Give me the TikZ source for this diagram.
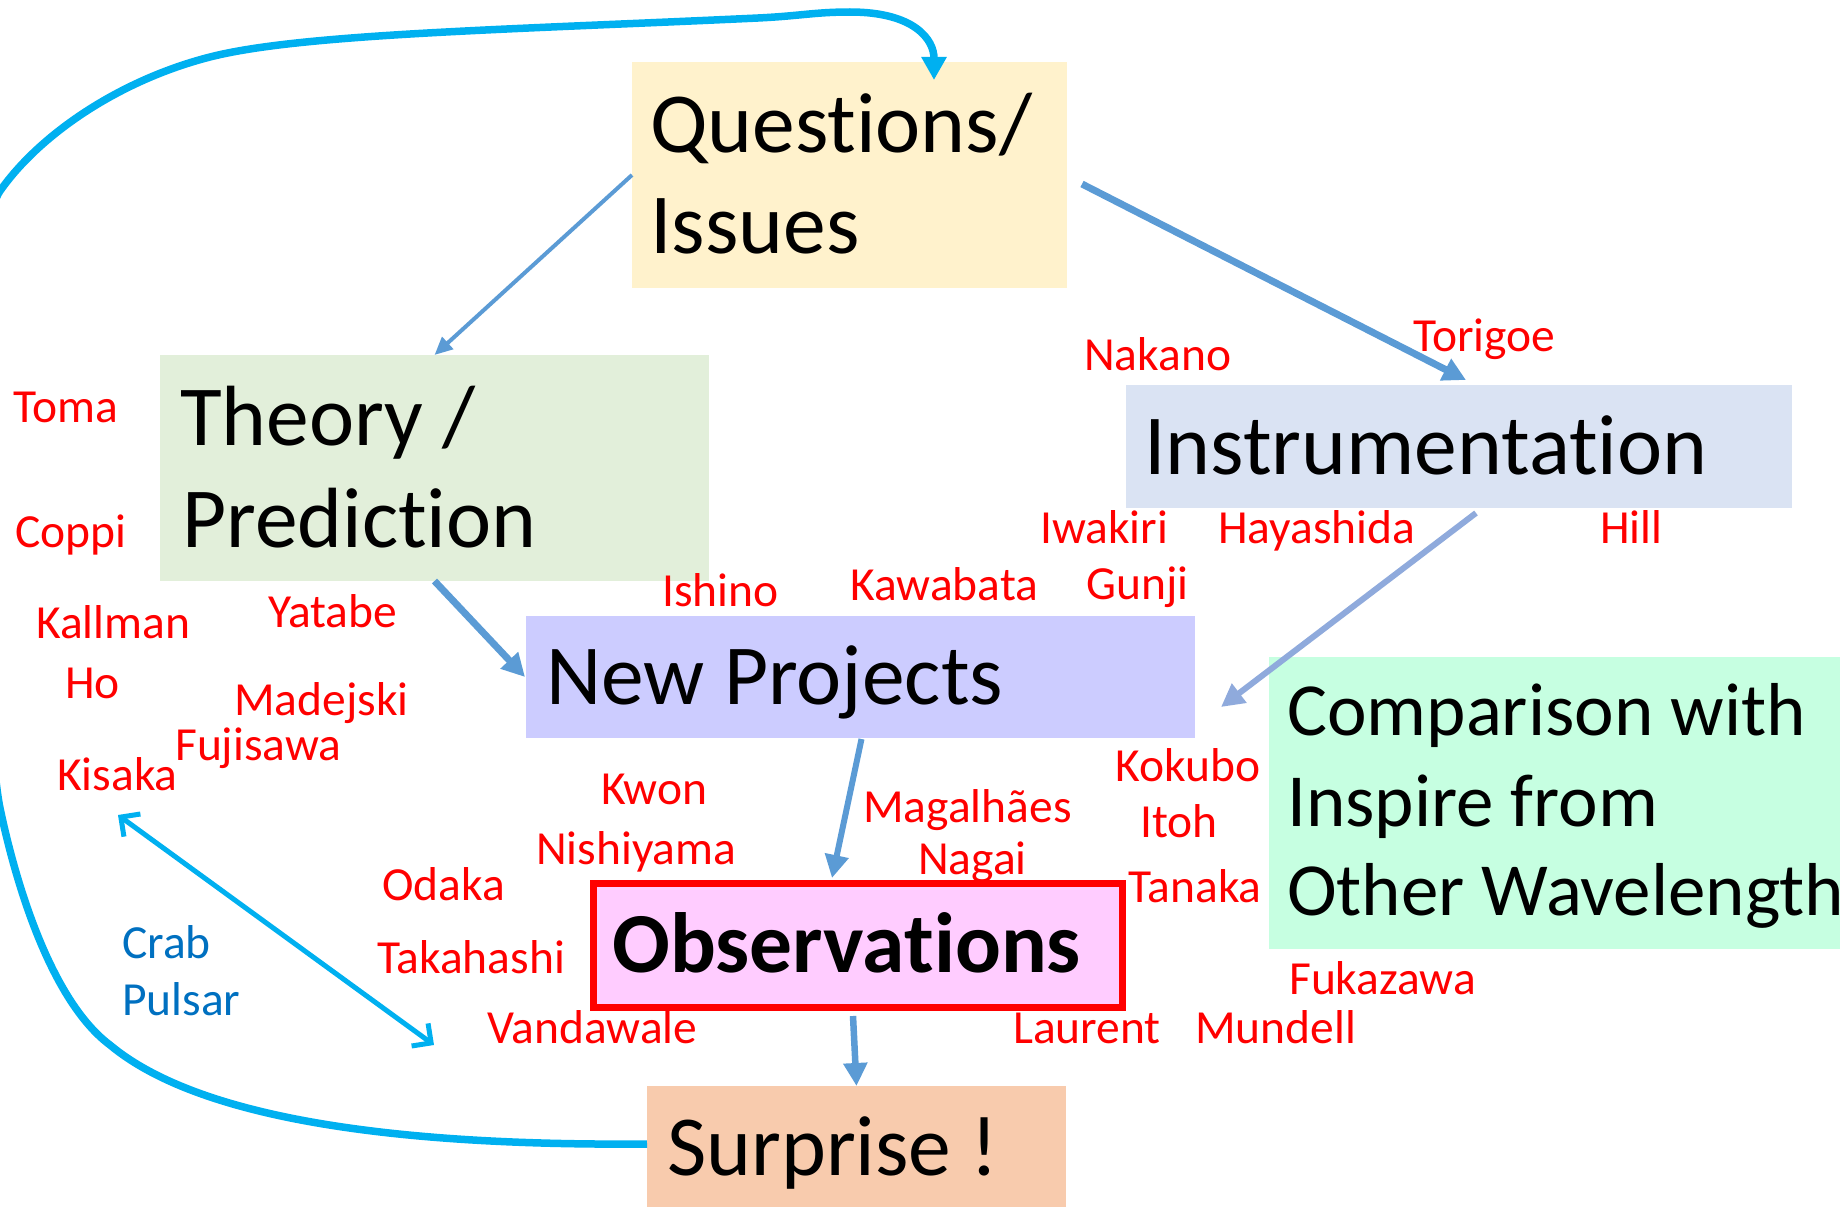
\documentclass[tikz,border=0pt]{standalone}
\usepackage{fontspec}
\setmainfont{Carlito}[RawFeature=-liga]
\usetikzlibrary{arrows.meta}
\definecolor{qfill}{HTML}{FFF2CC}
\definecolor{tfill}{HTML}{E2EFDA}
\definecolor{ifill}{HTML}{DAE3F3}
\definecolor{nfill}{HTML}{CCCCFF}
\definecolor{cfill}{HTML}{C6FFE1}
\definecolor{ofill}{HTML}{FFCCFF}
\definecolor{sfill}{HTML}{F8CBAD}
\definecolor{arrblue}{HTML}{5B9BD5}
\definecolor{arrlight}{HTML}{8FAADC}
\definecolor{loopblue}{HTML}{00B0F0}
\definecolor{crabtext}{HTML}{0070C0}
\definecolor{namered}{HTML}{FF0000}
\begin{document}
\begin{tikzpicture}[x=1pt,y=-1pt,
  box/.style={inner sep=0pt, outer sep=0pt, anchor=north west},
  big/.style={anchor=base west, inner sep=0pt, font=\fontsize{85.5}{101}\selectfont},
  bigbold/.style={big, font=\fontsize{85.5}{101}\selectfont\bfseries},
  cmp/.style={anchor=base west, inner sep=0pt, font=\fontsize{75}{90}\selectfont},
  nm/.style={anchor=base west, inner sep=0pt, text=namered, font=\fontsize{47.5}{57}\selectfont},
  crab/.style={nm, text=crabtext},
  conn/.style={draw=arrblue},
  tipA/.style={-{Triangle[length=23pt,width=23pt]}},
  tipB/.style={-{Triangle[length=18pt,width=16pt]}}
]
\useasboundingbox (0,0) rectangle (1840,1207);
\clip (0,0) rectangle (1840,1207);

% boxes
\node[box, fill=qfill, minimum width=435pt, minimum height=226pt] (Q) at (632,62) {};
\node[box, fill=tfill, minimum width=549pt, minimum height=226pt] (T) at (160,355) {};
\node[box, fill=ifill, minimum width=666pt, minimum height=123pt] (I) at (1126,385) {};
\node[box, fill=nfill, minimum width=669pt, minimum height=122pt] (NP) at (526,616) {};
\node[box, fill=cfill, minimum width=600pt, minimum height=292pt] (C) at (1269,657) {};
\node[box, fill=ofill, draw=namered, line width=7pt, minimum width=529pt, minimum height=124pt] (O) at (593.5,883.5) {};
\node[box, fill=sfill, minimum width=419pt, minimum height=130pt] (S) at (647,1086) {};

% box texts
\node[big] (qt1) at (650,152) {Questions/};
\node[big] (qt2) at (650,253) {Issues};
\node[big] (tt1) at (180,445) {Theory /};
\node[big] (tt2) at (182,547) {Prediction};
\node[big] (it1) at (1144,474) {Instrumentation};
\node[big] (npt) at (546,704) {New Projects};
\node[cmp] (ct1) at (1287,735) {Comparison with};
\node[cmp] (ct2) at (1287,826) {Inspire from};
\node[cmp] (ct3) at (1287,915) {Other Wavelength};
\node[bigbold] (ot) at (612,972) {Observations};
\node[big] (st) at (667,1175) {Surprise !};

% names
\node[nm] (toma) at (13,422) {Toma};
\node[nm] (coppi) at (15,547) {Coppi};
\node[nm] (kallman) at (36,638) {Kallman};
\node[nm] (ho) at (65,698) {Ho};
\node[nm] (kisaka) at (57,790) {Kisaka};
\node[nm] (yatabe) at (268,627) {Yatabe};
\node[nm] (madejski) at (234,715) {Madejski};
\node[nm] (fujisawa) at (175,760) {Fujisawa};
\node[nm] (ishino) at (662,606) {Ishino};
\node[nm] (kawabata) at (850,600) {Kawabata};
\node[nm] (gunji) at (1086,599) {Gunji};
\node[nm] (iwakiri) at (1040,543) {Iwakiri};
\node[nm] (hayashida) at (1218,543) {Hayashida};
\node[nm] (hill) at (1600,543) {Hill};
\node[nm] (nakano) at (1084,370) {Nakano};
\node[nm] (torigoe) at (1413,351) {Torigoe};
\node[nm] (kokubo) at (1115,781) {Kokubo};
\node[nm] (itoh) at (1140,837) {Itoh};
\node[nm] (tanaka) at (1128,902) {Tanaka};
\node[nm] (kwon) at (601,804) {Kwon};
\node[nm] (nishiyama) at (536,864) {Nishiyama};
\node[nm] (magalhaes) at (863,822) {Magalhães};
\node[nm] (nagai) at (918,874) {Nagai};
\node[nm] (odaka) at (382,900) {Odaka};
\node[nm] (takahashi) at (377,973) {Takahashi};
\node[nm] (vandawale) at (487,1043) {Vandawale};
\node[nm] (laurent) at (1013,1043) {Laurent};
\node[nm] (mundell) at (1195,1043) {Mundell};
\node[nm] (fukazawa) at (1289,994) {Fukazawa};
\node[crab] (crab1) at (122,958) {Crab};
\node[crab] (crab2) at (122,1015) {Pulsar};

% connectors
\draw[conn, line width=4pt, tipB] (Q.west) -- (T.north);
\draw[conn, line width=7pt, tipA] ([shift={(15,9)}]Q.east) -- ([shift={(7,-5)}]I.north);
\draw[conn, line width=7pt, tipA] (T.south) -- ([shift={(-1,0)}]NP.west);
\draw[draw=arrlight, line width=6pt, tipA] ([shift={(17,5)}]I.south) -- ([shift={(26,30)}]NP.east);
\draw[conn, line width=6pt, tipA] ([shift={(1,1)}]NP.south) -- ([shift={(-26,-5.5)}]O.north);
\draw[conn, line width=6.5pt, tipA] ([shift={(-5,8.5)}]O.south) -- (S.north);

% loop from Surprise back to Questions
\draw[draw=loopblue, line width=7.5pt, -{Triangle[length=23pt,width=24pt]}]
  ([shift={(0,-7)}]S.west)
  .. controls (400,1146) and (200,1120) .. (110,1045)
  .. controls (50,1000) and (15,880) .. (0,808)
  .. controls (-15,736) and (-40,248) .. (0,191)
  .. controls (40,134) and (120,80) .. (210,57)
  .. controls (300,34) and (500,30) .. (758,18)
  .. controls (800,16) and (815,12) .. (850,12)
  .. controls (915,12) and (934,40) .. ([shift={(84.5,18)}]Q.north);

% Crab pulsar double arrow
\coordinate (crabA) at (118,815);
\coordinate (crabB) at (434,1045);
\draw[draw=loopblue, line width=5pt, {Straight Barb[length=14pt,width=28pt]}-{Straight Barb[length=14pt,width=28pt]}] (crabA) -- (crabB);
\end{tikzpicture}
\end{document}
